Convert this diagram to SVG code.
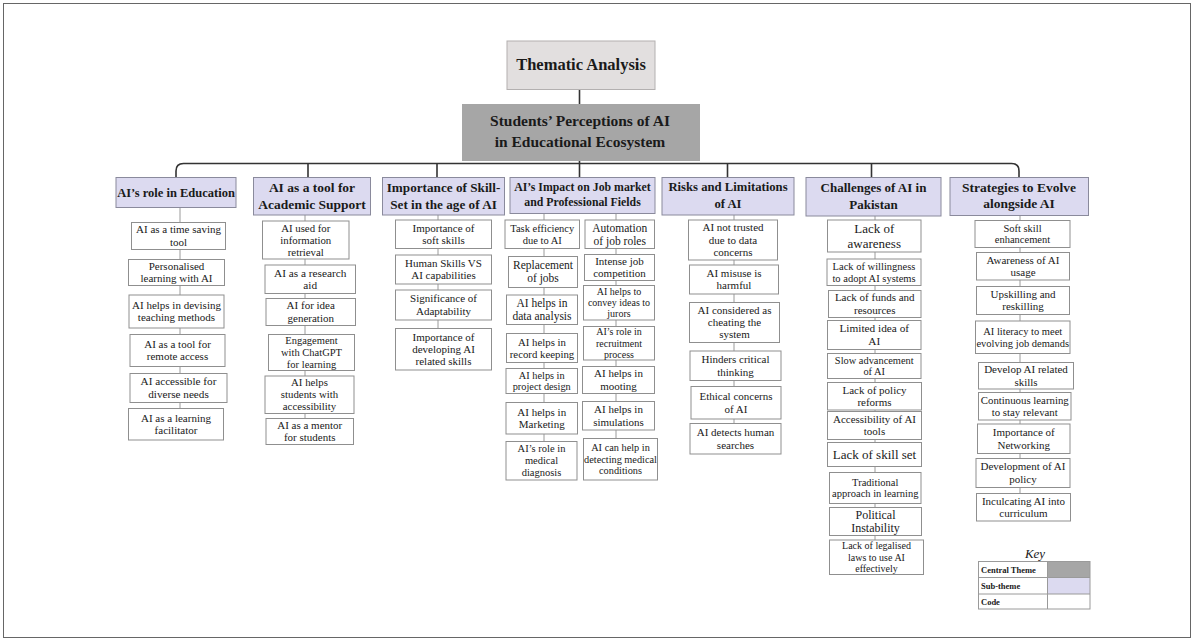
<svg xmlns="http://www.w3.org/2000/svg" width="1194" height="641" viewBox="0 0 1194 641">
<style>
text{font-family:"Liberation Serif","Times New Roman",serif;fill:#1a1a1a;text-anchor:middle}
.b{font-weight:bold}
.code rect{fill:#fff;stroke:#8f8f8f;stroke-width:1}
.sub rect{fill:#dcdaf0;stroke:#8a8a9c;stroke-width:1}
.bus{fill:none;stroke:#333;stroke-width:1.6}
.chain{stroke:#9a9a9a;stroke-width:1}
.key text{text-anchor:start;font-weight:bold;font-size:8.5px}
</style>
<rect x="0" y="0" width="1194" height="641" fill="#fff"/>
<rect x="3.5" y="3.5" width="1187" height="634" fill="none" stroke="#666" stroke-width="1"/>

<g id="connectors">
<line class="bus" x1="579.5" y1="89.5" x2="579.5" y2="104"/>
<path class="bus" d="M176,177.5 L176,171 Q176,163.5 183.5,163.5 L1011.5,163.5 Q1019,163.5 1019,171 L1019,177.5"/>
<line class="bus" x1="579.5" y1="161" x2="579.5" y2="177.5"/>
<line class="bus" x1="308" y1="163.5" x2="308" y2="177.5"/>
<line class="bus" x1="437" y1="163.5" x2="437" y2="177.5"/>
<line class="bus" x1="727.5" y1="163.5" x2="727.5" y2="177.5"/>
<line class="bus" x1="871.5" y1="163.5" x2="871.5" y2="177.5"/>
<line class="chain" x1="180" y1="207.5" x2="180" y2="408.5"/>
<line class="chain" x1="305" y1="214.5" x2="305" y2="418.5"/>
<line class="chain" x1="438" y1="215" x2="438" y2="328.5"/>
<line class="chain" x1="544" y1="213.5" x2="544" y2="441.5"/>
<line class="chain" x1="616" y1="213.5" x2="616" y2="438.5"/>
<line class="chain" x1="734" y1="215" x2="734" y2="423.5"/>
<line class="chain" x1="875" y1="216" x2="875" y2="540"/>
<line class="chain" x1="1020" y1="215.5" x2="1020" y2="493.5"/>
</g>

<g id="title">
<rect x="507" y="41" width="148" height="48.5" fill="#e2dfdf" stroke="#b3b0b0"/>
<text class="b" x="581" y="69.5" font-size="16.5">Thematic Analysis</text>
</g>
<g id="central">
<rect x="462" y="104" width="238" height="57" fill="#a6a6a6"/>
<text class="b" x="580" y="125.5" font-size="15.5">Students’ Perceptions of AI</text>
<text class="b" x="580" y="147" font-size="15.5">in Educational Ecosystem</text>
</g>

<g id="sub1" class="sub"><rect x="116" y="177.5" width="120" height="30"/>
<text class="b" x="176" y="197" font-size="12.5">AI’s role in Education</text></g>
<g id="sub2" class="sub"><rect x="253.5" y="177.5" width="117" height="37.5"/>
<text class="b" x="312" y="191.5" font-size="13.5">AI as a tool for</text>
<text class="b" x="312" y="209" font-size="13.5">Academic Support</text></g>
<g id="sub3" class="sub"><rect x="382.5" y="177.5" width="122" height="37.5"/>
<text class="b" x="443.5" y="192.2" font-size="13.2">Importance of Skill-</text>
<text class="b" x="443.5" y="209" font-size="13.2">Set in the age of AI</text></g>
<g id="sub4" class="sub"><rect x="510" y="177.5" width="145" height="36"/>
<text class="b" x="582.5" y="191" font-size="11.8">AI’s Impact on Job market</text>
<text class="b" x="582.5" y="205.5" font-size="11.8">and Professional Fields</text></g>
<g id="sub5" class="sub"><rect x="662" y="177.5" width="132" height="37.5"/>
<text class="b" x="728" y="191.2" font-size="12.7">Risks and Limitations</text>
<text class="b" x="728" y="208" font-size="12.7">of AI</text></g>
<g id="sub6" class="sub"><rect x="806" y="177.5" width="135" height="38.5"/>
<text class="b" x="873.5" y="192.3" font-size="13">Challenges of AI in</text>
<text class="b" x="873.5" y="209" font-size="13">Pakistan</text></g>
<g id="sub7" class="sub"><rect x="950" y="177.5" width="138.5" height="38"/>
<text class="b" x="1019" y="192.4" font-size="13.5">Strategies to Evolve</text>
<text class="b" x="1019" y="208.4" font-size="13.5">alongside AI</text></g>

<!-- column 1 -->
<g id="c1-1" class="code"><rect x="131.5" y="222.5" width="94" height="27"/>
<text x="178.5" y="233.4" font-size="11">AI as a time saving</text><text x="178.5" y="245.7" font-size="11">tool</text></g>
<g id="c1-2" class="code"><rect x="128.5" y="259.5" width="96" height="26"/>
<text x="176.5" y="269.9" font-size="11">Personalised</text><text x="176.5" y="282.2" font-size="11">learning with AI</text></g>
<g id="c1-3" class="code"><rect x="129" y="295" width="95" height="33"/>
<text x="176.5" y="308.9" font-size="11">AI helps in devising</text><text x="176.5" y="321.2" font-size="11">teaching methods</text></g>
<g id="c1-4" class="code"><rect x="130" y="334.5" width="95" height="32"/>
<text x="177.5" y="347.9" font-size="11">AI as a tool for</text><text x="177.5" y="360.2" font-size="11">remote access</text></g>
<g id="c1-5" class="code"><rect x="130" y="373.5" width="97" height="29"/>
<text x="178.5" y="385.4" font-size="11.2">AI accessible for</text><text x="178.5" y="397.8" font-size="11.2">diverse needs</text></g>
<g id="c1-6" class="code"><rect x="128.5" y="408.5" width="95" height="31.5"/>
<text x="176" y="421.7" font-size="11">AI as a learning</text><text x="176" y="434" font-size="11">facilitator</text></g>

<!-- column 2 -->
<g id="c2-1" class="code"><rect x="262.5" y="221" width="86.5" height="38"/>
<text x="305.75" y="231.6" font-size="10.8">AI used for</text><text x="305.75" y="243.6" font-size="10.8">information</text><text x="305.75" y="255.6" font-size="10.8">retrieval</text></g>
<g id="c2-2" class="code"><rect x="265" y="265" width="90.5" height="28.5"/>
<text x="310.25" y="276.7" font-size="11.3">AI as a research</text><text x="310.25" y="289.2" font-size="11.3">aid</text></g>
<g id="c2-3" class="code"><rect x="266" y="298.5" width="89.5" height="27"/>
<text x="310.75" y="309.4" font-size="11">AI for idea</text><text x="310.75" y="321.7" font-size="11">generation</text></g>
<g id="c2-4" class="code"><rect x="268.5" y="334.5" width="86" height="36"/>
<text x="311.5" y="344.2" font-size="10.5">Engagement</text><text x="311.5" y="356" font-size="10.5">with ChatGPT</text><text x="311.5" y="367.8" font-size="10.5">for learning</text></g>
<g id="c2-5" class="code"><rect x="265" y="376" width="89" height="37.5"/>
<text x="309.5" y="386.3" font-size="10.8">AI helps</text><text x="309.5" y="398.3" font-size="10.8">students with</text><text x="309.5" y="410.3" font-size="10.8">accessibility</text></g>
<g id="c2-6" class="code"><rect x="266" y="418.5" width="87.5" height="26"/>
<text x="309.75" y="428.9" font-size="11">AI as a mentor</text><text x="309.75" y="441.2" font-size="11">for students</text></g>

<!-- column 3 -->
<g id="c3-1" class="code"><rect x="395.5" y="220" width="96" height="28.5"/>
<text x="443.5" y="231.7" font-size="11">Importance of</text><text x="443.5" y="244" font-size="11">soft skills</text></g>
<g id="c3-2" class="code"><rect x="395.5" y="255" width="96" height="29"/>
<text x="443.5" y="266.9" font-size="11">Human Skills VS</text><text x="443.5" y="279.2" font-size="11">AI capabilities</text></g>
<g id="c3-3" class="code"><rect x="395.5" y="290" width="96" height="30"/>
<text x="443.5" y="302.4" font-size="11">Significance of</text><text x="443.5" y="314.7" font-size="11">Adaptability</text></g>
<g id="c3-4" class="code"><rect x="395.5" y="328.5" width="96" height="41.5"/>
<text x="443.5" y="340.5" font-size="11">Importance of</text><text x="443.5" y="352.8" font-size="11">developing AI</text><text x="443.5" y="365.1" font-size="11">related skills</text></g>

<!-- column 4 left -->
<g id="c4a-1" class="code"><rect x="505" y="220" width="74.5" height="28.5"/>
<text x="542.25" y="231.8" font-size="10.5">Task efficiency</text><text x="542.25" y="243.6" font-size="10.5">due to AI</text></g>
<g id="c4a-2" class="code"><rect x="508.5" y="256.5" width="69" height="31"/>
<text x="543" y="269.3" font-size="11.5">Replacement</text><text x="543" y="282.2" font-size="11.5">of jobs</text></g>
<g id="c4a-3" class="code"><rect x="506.5" y="295" width="71" height="29.5"/>
<text x="542" y="307.1" font-size="11.5">AI helps in</text><text x="542" y="320" font-size="11.5">data analysis</text></g>
<g id="c4a-4" class="code"><rect x="506.5" y="333.5" width="71" height="29"/>
<text x="542" y="345.5" font-size="10.8">AI helps in</text><text x="542" y="357.6" font-size="10.8">record keeping</text></g>
<g id="c4a-5" class="code"><rect x="506" y="368.5" width="71.5" height="25"/>
<text x="541.75" y="378.6" font-size="10.3">AI helps in</text><text x="541.75" y="390.1" font-size="10.3">project design</text></g>
<g id="c4a-6" class="code"><rect x="506" y="402.5" width="71.5" height="31.5"/>
<text x="541.75" y="415.7" font-size="11">AI helps in</text><text x="541.75" y="428" font-size="11">Marketing</text></g>
<g id="c4a-7" class="code"><rect x="506" y="441.5" width="71" height="38.5"/>
<text x="541.5" y="452.4" font-size="10.5">AI’s role in</text><text x="541.5" y="464.2" font-size="10.5">medical</text><text x="541.5" y="476" font-size="10.5">diagnosis</text></g>

<!-- column 4 right -->
<g id="c4b-1" class="code"><rect x="585" y="220" width="69.5" height="28.5"/>
<text x="619.75" y="231.6" font-size="11.5">Automation</text><text x="619.75" y="244.5" font-size="11.5">of job roles</text></g>
<g id="c4b-2" class="code"><rect x="584.5" y="254.5" width="70" height="26"/>
<text x="619.5" y="264.9" font-size="11">Intense job</text><text x="619.5" y="277.2" font-size="11">competition</text></g>
<g id="c4b-3" class="code"><rect x="583.5" y="285.5" width="71" height="34.5"/>
<text x="619" y="294.8" font-size="10">AI helps to</text><text x="619" y="306" font-size="10">convey ideas to</text><text x="619" y="317.2" font-size="10">jurors</text></g>
<g id="c4b-4" class="code"><rect x="583.5" y="326.5" width="71" height="33.5"/>
<text x="619" y="335.3" font-size="10">AI’s role in</text><text x="619" y="346.5" font-size="10">recruitment</text><text x="619" y="357.7" font-size="10">process</text></g>
<g id="c4b-5" class="code"><rect x="582.5" y="366.5" width="72" height="27"/>
<text x="618.5" y="377.4" font-size="11">AI helps in</text><text x="618.5" y="389.7" font-size="11">mooting</text></g>
<g id="c4b-6" class="code"><rect x="582.5" y="401.5" width="72" height="28.5"/>
<text x="618.5" y="413.2" font-size="11">AI helps in</text><text x="618.5" y="425.5" font-size="11">simulations</text></g>
<g id="c4b-7" class="code"><rect x="583.5" y="438.5" width="74" height="41.5"/>
<text x="620.5" y="451" font-size="10.3">AI can help in</text><text x="620.5" y="462.6" font-size="10.3">detecting medical</text><text x="620.5" y="474.2" font-size="10.3">conditions</text></g>

<!-- column 5 -->
<g id="c5-1" class="code"><rect x="688.5" y="220" width="89" height="40"/>
<text x="733" y="231.3" font-size="11">AI not trusted</text><text x="733" y="243.6" font-size="11">due to data</text><text x="733" y="255.9" font-size="11">concerns</text></g>
<g id="c5-2" class="code"><rect x="689.5" y="265" width="89" height="29"/>
<text x="734" y="276.9" font-size="11">AI misuse is</text><text x="734" y="289.2" font-size="11">harmful</text></g>
<g id="c5-3" class="code"><rect x="689.5" y="302.5" width="90" height="40"/>
<text x="734.5" y="313.8" font-size="11">AI considered as</text><text x="734.5" y="326.1" font-size="11">cheating the</text><text x="734.5" y="338.4" font-size="11">system</text></g>
<g id="c5-4" class="code"><rect x="690" y="351" width="91" height="29.5"/>
<text x="735.5" y="363.2" font-size="11">Hinders critical</text><text x="735.5" y="375.5" font-size="11">thinking</text></g>
<g id="c5-5" class="code"><rect x="691" y="386.5" width="90" height="32.5"/>
<text x="736" y="400.2" font-size="11">Ethical concerns</text><text x="736" y="412.5" font-size="11">of AI</text></g>
<g id="c5-6" class="code"><rect x="690" y="423.5" width="91" height="30.5"/>
<text x="735.5" y="436.2" font-size="11">AI detects human</text><text x="735.5" y="448.5" font-size="11">searches</text></g>

<!-- column 6 -->
<g id="c6-1" class="code"><rect x="827.5" y="220" width="93.5" height="32"/>
<text x="874.25" y="233" font-size="13">Lack of</text><text x="874.25" y="247.5" font-size="13">awareness</text></g>
<g id="c6-2" class="code"><rect x="827" y="259" width="94" height="26.5"/>
<text x="874" y="269.8" font-size="10.5">Lack of willingness</text><text x="874" y="281.6" font-size="10.5">to adopt AI systems</text></g>
<g id="c6-3" class="code"><rect x="828.5" y="290.5" width="92.5" height="27"/>
<text x="874.75" y="301.4" font-size="11">Lack of funds and</text><text x="874.75" y="313.7" font-size="11">resources</text></g>
<g id="c6-4" class="code"><rect x="827.5" y="320.5" width="93.5" height="29"/>
<text x="874.25" y="332.3" font-size="11.3">Limited idea of</text><text x="874.25" y="345" font-size="11.3">AI</text></g>
<g id="c6-5" class="code"><rect x="827.5" y="353.5" width="93.5" height="25"/>
<text x="874.25" y="363.7" font-size="10.4">Slow advancement</text><text x="874.25" y="375.3" font-size="10.4">of AI</text></g>
<g id="c6-6" class="code"><rect x="827.5" y="382.5" width="94" height="27.5"/>
<text x="874.5" y="393.7" font-size="11">Lack of policy</text><text x="874.5" y="406" font-size="11">reforms</text></g>
<g id="c6-7" class="code"><rect x="827.5" y="411.5" width="94" height="28"/>
<text x="874.5" y="422.9" font-size="11">Accessibility of AI</text><text x="874.5" y="435.2" font-size="11">tools</text></g>
<g id="c6-8" class="code"><rect x="827.5" y="442.5" width="94" height="24"/>
<text x="874.5" y="458.8" font-size="13">Lack of skill set</text></g>
<g id="c6-9" class="code"><rect x="829.5" y="472.5" width="91.5" height="31"/>
<text x="875.25" y="485.6" font-size="10.5">Traditional</text><text x="875.25" y="497.4" font-size="10.5">approach in learning</text></g>
<g id="c6-10" class="code"><rect x="829.5" y="507.5" width="92" height="28"/>
<text x="875.5" y="518.8" font-size="12">Political</text><text x="875.5" y="532.2" font-size="12">Instability</text></g>
<g id="c6-11" class="code"><rect x="829.5" y="540" width="94" height="34.5"/>
<text x="876.5" y="549.3" font-size="10">Lack of legalised</text><text x="876.5" y="560.5" font-size="10">laws to use AI</text><text x="876.5" y="571.7" font-size="10">effectively</text></g>

<!-- column 7 -->
<g id="c7-1" class="code"><rect x="975" y="220.5" width="95" height="27"/>
<text x="1022.5" y="231.6" font-size="10.5">Soft skill</text><text x="1022.5" y="243.4" font-size="10.5">enhancement</text></g>
<g id="c7-2" class="code"><rect x="976.5" y="252.5" width="93" height="27.5"/>
<text x="1023" y="263.7" font-size="11">Awareness of AI</text><text x="1023" y="276" font-size="11">usage</text></g>
<g id="c7-3" class="code"><rect x="976.5" y="286.5" width="93" height="28"/>
<text x="1023" y="297.9" font-size="11">Upskilling and</text><text x="1023" y="310.2" font-size="11">reskilling</text></g>
<g id="c7-4" class="code"><rect x="975.5" y="321" width="94.5" height="32.5"/>
<text x="1022.75" y="334.8" font-size="10.5">AI literacy to meet</text><text x="1022.75" y="346.6" font-size="10.5">evolving job demands</text></g>
<g id="c7-5" class="code"><rect x="978.5" y="362.5" width="95" height="26.5"/>
<text x="1026" y="373.2" font-size="11">Develop AI related</text><text x="1026" y="385.5" font-size="11">skills</text></g>
<g id="c7-6" class="code"><rect x="978.5" y="392.5" width="92.5" height="27.5"/>
<text x="1024.75" y="403.7" font-size="10.8">Continuous learning</text><text x="1024.75" y="415.8" font-size="10.8">to stay relevant</text></g>
<g id="c7-7" class="code"><rect x="977.5" y="424" width="92.5" height="29.5"/>
<text x="1023.75" y="436.2" font-size="11">Importance of</text><text x="1023.75" y="448.5" font-size="11">Networking</text></g>
<g id="c7-8" class="code"><rect x="976" y="458.5" width="94" height="29"/>
<text x="1023" y="470.4" font-size="11">Development of AI</text><text x="1023" y="482.7" font-size="11">policy</text></g>
<g id="c7-9" class="code"><rect x="976.5" y="493.5" width="94" height="27.5"/>
<text x="1023.5" y="504.7" font-size="11">Inculcating AI into</text><text x="1023.5" y="517" font-size="11">curriculum</text></g>

<!-- key -->
<g id="key" class="key">
<text x="1035" y="558" style="text-anchor:middle;font-weight:normal;font-style:italic;font-size:13px">Key</text>
<rect x="1047.5" y="561.5" width="42.5" height="16" fill="#a6a6a6"/>
<rect x="1047.5" y="577.5" width="42.5" height="16.5" fill="#dcdaf0"/>
<rect x="978.5" y="561.5" width="111.5" height="47.5" fill="none" stroke="#9a9a9a"/>
<line x1="978.5" y1="577.5" x2="1090" y2="577.5" stroke="#9a9a9a"/>
<line x1="978.5" y1="594" x2="1090" y2="594" stroke="#9a9a9a"/>
<line x1="1047.5" y1="561.5" x2="1047.5" y2="609" stroke="#9a9a9a"/>
<text x="981" y="572.5">Central Theme</text>
<text x="981" y="589">Sub-theme</text>
<text x="981" y="605">Code</text>
</g>
</svg>
